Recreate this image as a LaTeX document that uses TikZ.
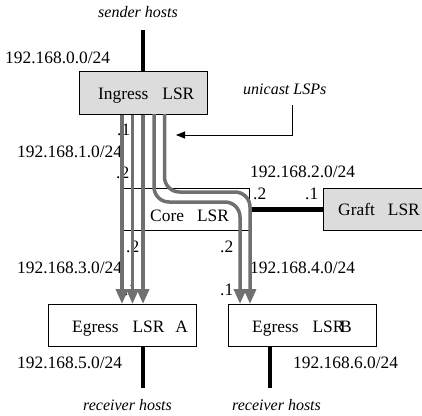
\documentclass[tikz,border=0pt]{standalone}
\usepackage{fontspec}
\setmainfont{Liberation Serif}
\usetikzlibrary{arrows.meta}
\definecolor{lspgray}{RGB}{112,112,112}
\definecolor{boxgray}{RGB}{220,220,220}
\begin{document}
\begin{tikzpicture}[x=1pt,y=-1pt,
  lbl/.style={anchor=base west,inner sep=0pt,font=\fontsize{17.4}{19}\selectfont},
  ital/.style={anchor=base west,inner sep=0pt,font=\fontsize{16}{18}\selectfont\itshape},
  router/.style={draw=black,line width=0.8pt,inner sep=0pt,anchor=north west,fill=white},
  hostline/.style={line width=4pt},
  lsp/.style={draw=lspgray,line width=3.5pt,-{Triangle[width=12pt,length=15pt]}},
  lead/.style={line width=0.8pt,-{Triangle[width=7pt,length=9pt]}}
]
\useasboundingbox (0,0) rectangle (422,415);
\clip (0,0) rectangle (422,415);

% routers
\node[router,fill=boxgray,minimum width=128pt,minimum height=43pt] (ing) at (79,71) {};
\node[router,minimum width=127pt,minimum height=42pt] (core) at (122,188) {};
\node[router,fill=boxgray,minimum width=110pt,minimum height=42pt] (graft) at (323,188) {};
\node[router,minimum width=148pt,minimum height=42pt] (egA) at (48,304) {};
\node[router,minimum width=148pt,minimum height=42pt] (egB) at (228,304) {};

% host lines
\coordinate (snd) at (143,30);
\coordinate (rcvA) at (143,388);
\coordinate (rcvB) at (270,388);
\draw[hostline] (snd) -- (snd |- ing.north);
\draw[hostline] (rcvA |- egA.south) -- (rcvA);
\draw[hostline] (rcvB |- egB.south) -- (rcvB);
\draw[line width=5pt] (core.east) -- (graft.west);

% texts
\node[ital] (t1) at (98,17.5) {sender hosts};
\node[lbl] (t2) at (5,63) {192.168.0.0/24};
\node[lbl] (t3) at (98,99) {Ingress\hspace{14pt}LSR};
\node[ital] (t4) at (243,94) {unicast LSPs};
\node[lbl] (t5) at (117,135) {.1};
\node[lbl] (t6) at (17,157) {192.168.1.0/24};
\node[lbl] (t7) at (116,178) {.2};
\node[lbl] (t8) at (250,177) {192.168.2.0/24};
\node[lbl] (t9) at (253,199) {.2};
\node[lbl] (t10) at (305,199) {.1};
\node[lbl] (t11) at (150,221) {Core\hspace{13pt}LSR};
\node[lbl] (t12) at (338,215) {Graft\hspace{13pt}LSR};
\node[lbl] (t13) at (126,252) {.2};
\node[lbl] (t14) at (220,252) {.2};
\node[lbl] (t15) at (17,273) {192.168.3.0/24};
\node[lbl] (t16) at (250,273) {192.168.4.0/24};
\node[lbl] (t17) at (220,295) {.1};
\node[lbl] (t18) at (124,295) {.1};
\node[lbl] (t19) at (72,332) {Egress\hspace{14pt}LSR\hspace{11pt}A};
\node[lbl] (t20) at (252,332) {Egress\hspace{14pt}LSR\kern-4.5pt B};
\node[lbl] (t21) at (17,368) {192.168.5.0/24};
\node[lbl] (t22) at (293,368) {192.168.6.0/24};
\node[ital] (t23) at (83,410) {receiver hosts};
\node[ital] (t24) at (232,410) {receiver hosts};

% unicast LSPs
\coordinate (a1) at (122,304);
\coordinate (a2) at (132.5,304);
\coordinate (a3) at (143,304);
\coordinate (b1) at (240,304);
\coordinate (b2) at (250,304);
\draw[lsp] (a1 |- ing.south) -- (a1);
\draw[lsp] (a2 |- ing.south) -- (a2);
\draw[lsp] (a3 |- ing.south) -- (a3);
\draw[lsp,rounded corners=15pt] (154,114) -- (154,202) -- (240,202) -- (b1);
\draw[lsp,rounded corners=15pt] (164.5,114) -- (164.5,192) -- (250,192) -- (b2);

% leader
\coordinate (u1) at (292,105);
\coordinate (u2) at (176,135);
\draw[lead] (u1) |- (u2);
\end{tikzpicture}
\end{document}
